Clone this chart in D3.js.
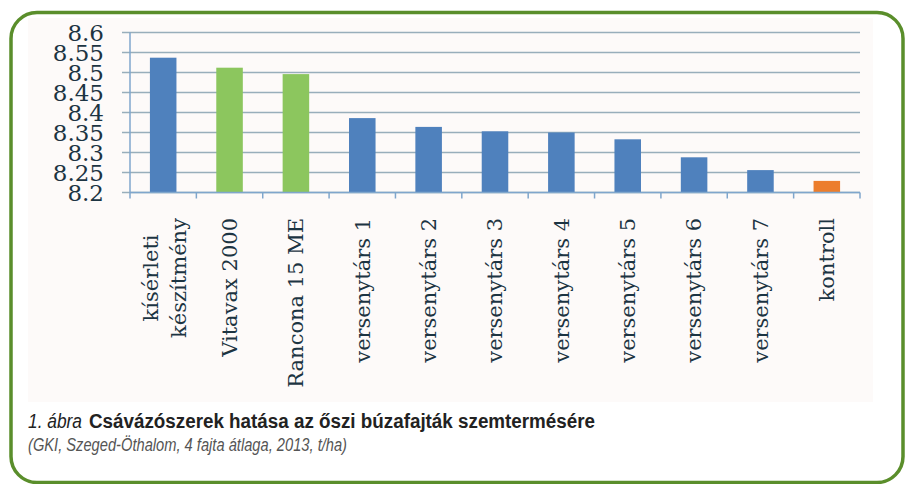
<!DOCTYPE html>
<html>
<head>
<meta charset="utf-8">
<script src="https://cdn.jsdelivr.net/npm/d3@7"></script>
<style>
  body { margin: 0; background: #fff; }
  svg { display: block; }
</style>
</head>
<body>
<svg id="chart" width="907" height="484"></svg>
<script>
// data
var categories = ["kísérleti készítmény", "Vitavax 2000", "Rancona 15 ME", "versenytárs 1",
    "versenytárs 2", "versenytárs 3", "versenytárs 4", "versenytárs 5",
    "versenytárs 6", "versenytárs 7", "kontroll"];
var values = [8.537, 8.512, 8.496, 8.386, 8.364, 8.353, 8.350, 8.333, 8.288, 8.256, 8.229];
var groups = ["test", "ref", "ref", "comp", "comp", "comp", "comp", "comp", "comp", "comp", "ctrl"];
var yTicks = [8.2, 8.25, 8.3, 8.35, 8.4, 8.45, 8.5, 8.55, 8.6];
var captionNum = "1. ábra";
var captionTitle = "Csávázószerek hatása az őszi búzafajták szemtermésére";
var captionSub = "(GKI, Szeged-Öthalom, 4 fajta átlaga, 2013, t/ha)";

var svg = d3.select("#chart");
var serif = "'DejaVu Serif', 'Liberation Serif', serif";
var sans = "'Liberation Sans', Arial, sans-serif";

var color = d3.scaleOrdinal()
    .domain(["test", "ref", "comp", "ctrl"])
    .range(["#4f81bd", "#8cc65e", "#4f81bd", "#ec7d2c"]);

// frame
svg.append("rect")
    .attr("x", 11).attr("y", 12.5)
    .attr("width", 892).attr("height", 470)
    .attr("rx", 26).attr("ry", 26)
    .attr("fill", "#fff")
    .attr("stroke", "#5a8e2b")
    .attr("stroke-width", 3.5);

// faint chart background
svg.append("rect")
    .attr("x", 28).attr("y", 18)
    .attr("width", 845).attr("height", 384)
    .attr("fill", "#fdfaf9");

var x = d3.scaleBand()
    .domain(categories)
    .range([130, 860])
    .paddingInner(0.6)
    .paddingOuter(0.3);

var y = d3.scaleLinear()
    .domain([8.2, 8.6])
    .range([192.5, 32.5]);

// gridlines
svg.append("g")
    .selectAll("line")
    .data(yTicks)
    .enter().append("line")
    .attr("x1", 122).attr("x2", 860)
    .attr("y1", function(d) { return y(d); })
    .attr("y2", function(d) { return y(d); })
    .attr("stroke", "#98aebb")
    .attr("stroke-width", 1.6);

// y tick labels
svg.append("g")
    .selectAll("text")
    .data(yTicks)
    .enter().append("text")
    .attr("x", 104)
    .attr("y", function(d) { return y(d); })
    .attr("dy", "0.36em")
    .attr("text-anchor", "end")
    .attr("font-family", serif)
    .attr("font-size", 23)
    .attr("fill", "#1c3442")
    .text(function(d) { return String(+d.toFixed(2)); });

// bars
svg.append("g")
    .selectAll("rect")
    .data(values)
    .enter().append("rect")
    .attr("x", function(d, i) { return x(categories[i]); })
    .attr("width", x.bandwidth())
    .attr("y", function(d) { return y(d); })
    .attr("height", function(d) { return y(8.2) - y(d); })
    .attr("fill", function(d, i) { return color(groups[i]); });

// axes lines
svg.append("line")
    .attr("x1", 130).attr("x2", 130)
    .attr("y1", y(8.6)).attr("y2", y(8.2))
    .attr("stroke", "#7fa6cc").attr("stroke-width", 1.5);

svg.append("line")
    .attr("x1", 130).attr("x2", 860)
    .attr("y1", y(8.2)).attr("y2", y(8.2))
    .attr("stroke", "#7fa6cc").attr("stroke-width", 1.5);

var step = x.step();
svg.append("g")
    .selectAll("line")
    .data(d3.range(categories.length + 1))
    .enter().append("line")
    .attr("x1", function(i) { return 130 + i * step; })
    .attr("x2", function(i) { return 130 + i * step; })
    .attr("y1", y(8.2)).attr("y2", y(8.2) + 6)
    .attr("stroke", "#7fa6cc").attr("stroke-width", 1.5);

// category labels, rotated; text end sits at labelTop
var labelTop = 218;
svg.append("g")
    .selectAll("g")
    .data(categories)
    .enter().append("g")
    .each(function(d) {
        var cx = x(d) + x.bandwidth() / 2;
        var g = d3.select(this);
        var parts = d === "kísérleti készítmény" ? ["kísérleti", "készítmény"] : [d];
        if (parts.length === 1) {
            g.append("text")
                .attr("transform", "translate(" + cx + "," + labelTop + ") rotate(-90)")
                .attr("dy", "0.35em")
                .attr("text-anchor", "end")
                .attr("font-family", serif)
                .attr("font-size", 21)
                .attr("fill", "#1c3442")
                .text(d);
        } else {
            // two centred lines, block starting at labelTop
            var t = g.append("text")
                .attr("font-family", serif)
                .attr("font-size", 21)
                .attr("fill", "#1c3442")
                .attr("text-anchor", "middle")
                .text(parts[1]);
            var len = t.node().getComputedTextLength();
            var mid = labelTop + len / 2;
            t.attr("transform", "translate(" + (cx + 15) + "," + mid + ") rotate(-90)")
                .attr("dy", "0.35em");
            g.append("text")
                .attr("transform", "translate(" + (cx - 13) + "," + mid + ") rotate(-90)")
                .attr("dy", "0.35em")
                .attr("text-anchor", "middle")
                .attr("font-family", serif)
                .attr("font-size", 21)
                .attr("fill", "#1c3442")
                .text(parts[0]);
        }
    });

// caption
svg.append("text")
    .attr("x", 28).attr("y", 428)
    .attr("font-family", sans)
    .attr("font-size", 20)
    .attr("font-style", "italic")
    .attr("fill", "#222")
    .attr("textLength", 54)
    .attr("lengthAdjust", "spacingAndGlyphs")
    .text(captionNum);

svg.append("text")
    .attr("x", 89).attr("y", 428)
    .attr("font-family", sans)
    .attr("font-size", 20)
    .attr("font-weight", "bold")
    .attr("fill", "#222")
    .attr("textLength", 506)
    .attr("lengthAdjust", "spacingAndGlyphs")
    .text(captionTitle);

svg.append("text")
    .attr("x", 28).attr("y", 451)
    .attr("font-family", sans)
    .attr("font-size", 19)
    .attr("font-style", "italic")
    .attr("fill", "#555")
    .attr("textLength", 319)
    .attr("lengthAdjust", "spacingAndGlyphs")
    .text(captionSub);
</script>
</body>
</html>
